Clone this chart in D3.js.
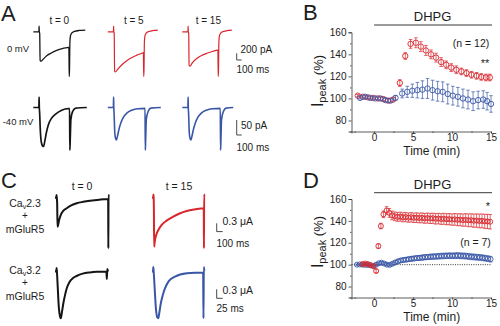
<!DOCTYPE html>
<html><head><meta charset="utf-8">
<script src="https://cdn.jsdelivr.net/npm/d3@7"></script>
<style>
body{margin:0;background:#fff}
svg{display:block;background:#fff}
text{font-family:"Liberation Sans",Arial,Helvetica,sans-serif;fill:#1c1c1c}
</style></head><body>
<svg id="fig" width="500" height="326"></svg>
<script>
// ---------- Panel A: Cav currents at 0 mV and -40 mV (time in ms, current in pA)
const a0Black = [[0,0],[112,0],[116,170],[120,0],[128,-40],[136,-860],[160,-880],[200,-820],[268,-720],[360,-635],[468,-560],[580,-505],[700,-470],[712,-466],[718,-1340],[724,-1150],[732,-300],[745,-110],[770,-35],[820,10],[920,40],[1040,50]];
const a0Red5 = [[0,0],[112,0],[116,170],[120,0],[128,-40],[136,-1190],[155,-1200],[200,-1120],[310,-950],[444,-800],[580,-700],[700,-630],[712,-620],[718,-1340],[724,-1150],[732,-300],[745,-110],[770,-35],[820,10],[920,40],[1000,50]];
const a0Red15 = [[0,0],[112,0],[116,170],[120,0],[128,-40],[136,-1010],[155,-1030],[200,-930],[288,-800],[400,-700],[488,-645],[600,-590],[700,-550],[712,-545],[718,-1340],[724,-1150],[732,-300],[745,-110],[770,-35],[820,10],[920,40],[990,50]];
const a40Black = [[0,0],[112,0],[116,35],[120,0],[126,-15],[140,-75],[160,-115],[185,-128],[205,-130],[230,-112],[260,-85],[300,-58],[360,-37],[434,-24],[568,-9],[700,-4],[726,-4],[731,-142],[737,-115],[752,-40],[790,-12],[850,-2],[1070,0]];
const a40Blue5 = [[0,0],[112,0],[116,35],[120,0],[126,-20],[140,-85],[158,-105],[172,-108],[190,-98],[220,-75],[260,-52],[310,-33],[380,-19],[480,-9],[600,-4],[745,-3],[750,-142],[756,-115],[770,-40],[810,-12],[860,-2],[1060,0]];
const a40Blue15 = [[0,0],[112,0],[116,35],[120,0],[126,-20],[140,-85],[158,-105],[172,-108],[190,-98],[220,-75],[260,-52],[310,-33],[380,-19],[480,-9],[600,-4],[760,-3],[765,-142],[771,-115],[785,-40],[825,-12],[875,-2],[1020,0]];
const aColumnTitles = ['t = 0', 't = 5', 't = 15'];
const aRowTitles = ['0 mV', '-40 mV'];

// ---------- Panel B: Ipeak (%) vs time (min), Cav2.3
const bRedT = [-2.1,-1.45,-0.8,-0.15,0.5,1.15,1.8,2.45,3.3,4.0,4.68,5.36,6.0,6.65,7.3,7.95,8.6,9.25,9.9,10.55,11.2,11.85,12.5,13.15,13.75,14.35,14.85];
const bRedV = [102.5,101.5,101,100.5,100,99.5,98,99,114,138.5,149.5,150.5,147,143.5,140,137,133,130.5,128,126,124.5,123,121.5,120.5,119.5,119,119];
const bRedE = [1,1,1,1,1,1.5,1.5,1.5,3,3,4,4.5,4.5,4.5,4,4,4,3.5,3.5,3.5,3,3,3,3,3,3,3];
const bBlueT = [-1.8,-1.15,-0.5,0.15,0.8,1.45,2.1,2.75,3.6,4.25,4.9,5.55,6.2,6.85,7.5,8.15,8.8,9.45,10.1,10.75,11.4,12.05,12.7,13.35,14.0,14.5,15.0];
const bBlueV = [100.5,101.5,100.5,100,100,98.5,98,100.5,104.5,106,107,107.5,108,109,107.5,106.5,106,104,102.5,101.5,100,99,97.5,98.5,99,97.5,95];
const bBlueE = [1,1,1,1,1.5,1.5,1.5,2,4,5,6,7,8,9,9,9,9,9,8.5,8.5,8.5,8.5,8.5,8,8,8,7.5];

// ---------- Panel C: Cav2.3 / Cav3.2 + mGluR5 (time in ms, current in uA)
const c23Black = [[0,0],[22,0],[26,0.1],[30,0],[36,-0.2],[42,-1.05],[50,-1.0],[70,-0.8],[100,-0.6],[140,-0.47],[195,-0.38],[270,-0.28],[362,-0.2],[470,-0.15],[583,-0.11],[740,-0.07],[886,-0.05],[889,-1.83],[892,0.1],[898,0.05]];
const c23Red = [[0,0],[20,0],[24,0.12],[28,0],[31,-0.3],[36,-1.77],[45,-1.6],[70,-1.35],[110,-1.15],[162,-0.98],[250,-0.82],[355,-0.68],[460,-0.57],[578,-0.48],[720,-0.42],[863,-0.38],[866,-1.83],[869,0.12],[874,0.05]];
const c32Black = [[0,0],[5,0],[6.5,0.12],[8,0],[10,-0.3],[16,-1.2],[21,-1.5],[24,-1.56],[28,-1.4],[35,-1.05],[42,-0.78],[49,-0.56],[60,-0.36],[75,-0.22],[90,-0.15],[115,-0.07],[146,-0.03],[180,-0.01],[214,0],[216,-0.25],[218,0.08],[221,0]];
const c32Blue = [[0,0],[4,0],[5.5,0.15],[7,0],[10,-0.4],[17,-1.3],[22,-1.53],[26,-1.56],[30,-1.4],[37,-1.05],[45,-0.78],[54,-0.56],[70,-0.32],[96,-0.17],[145,-0.06],[213,-0.03],[214.5,-1.56],[216,0.15],[218,0.02]];
const cColumnTitles = ['t = 0', 't = 15'];

// ---------- Panel D: Ipeak (%) vs time (min), Cav3.2
const dRedT = [-1.5,-1.15,-0.8,-0.45,-0.05,0.26,0.55,0.87,1.2,1.6,1.95,2.3,2.65,3.0,3.35,3.7,4.05,4.4,4.75,5.1,5.45,5.8,6.15,6.5,6.85,7.2,7.55,7.9,8.25,8.6,8.95,9.3,9.65,10.0,10.35,10.7,11.05,11.4,11.75,12.1,12.45,12.8,13.15,13.5,13.85,14.2,14.55,14.9];
const dRedV = [100.5,101,100.5,99.5,98.8,94.2,117,135.3,146,149.5,147.3,145,144.2,143.6,143.9,143.3,143.5,143,143.3,142.8,143,142.6,142.8,142.3,142.6,142.2,142.4,141.9,142.1,141.7,141.9,141.5,141.6,141.2,141.4,141,141.1,140.7,140.9,140.5,140.6,140.2,140.3,139.9,140,139.6,139.5,139.2];
const dRedE = [1,1,1,1,1.2,1.5,2,2.5,3,3.5,4,4,4,4,4.1,4.1,4.2,4.2,4.3,4.3,4.4,4.4,4.5,4.5,4.6,4.6,4.7,4.8,4.8,4.9,5,5,5.1,5.2,5.3,5.4,5.5,5.6,5.7,5.8,5.9,6,6.1,6.2,6.3,6.4,6.5,6.6];
const dBlueT = [-2.2,-1.85,-1.5,-1.15,-0.8,-0.45,-0.1,0.25,0.6,0.95,1.3,1.65,2.0,2.35,2.7,3.05,3.4,3.75,4.1,4.45,4.8,5.15,5.5,5.85,6.2,6.55,6.9,7.25,7.6,7.95,8.3,8.65,9.0,9.35,9.7,10.05,10.4,10.75,11.1,11.45,11.8,12.15,12.5,12.85,13.2,13.55,13.9,14.25,14.6,14.95];
const dBlueV = [100,100.2,100,99.8,99.8,99.5,98.5,100,101.2,101.8,101,100,99.8,100.8,102,103,103.8,104.3,104.6,105,105.4,105.7,106,106.2,106.5,106.8,107,107.2,107.4,107.5,107.7,107.9,108,108.1,108.2,108.1,108.2,108.3,108.1,108,107.8,107.5,107.2,107,106.8,106.6,106.3,105.9,105.5,105];
const dBlueE = [0.6,0.6,0.6,0.6,0.7,0.7,0.8,0.9,1,1,1.1,1.1,1.2,1.3,1.5,1.6,1.8,1.9,2,2,2.1,2.1,2.2,2.2,2.3,2.3,2.3,2.4,2.4,2.4,2.5,2.5,2.5,2.5,2.5,2.5,2.6,2.6,2.6,2.6,2.6,2.6,2.6,2.6,2.6,2.6,2.6,2.6,2.6,2.6];

const timeTicks = [0,5,10,15];
const timeMinorTicks = [-2.5,2.5,7.5,12.5];
const pctTicks = [80,100,120,140,160];
const pctMinorTicks = [70,90,110,130,150];

const BLACK = '#151515', RED = '#d8262d', BLUE = '#3a57a7';
const svg = d3.select('#fig');

function txt(x, y, s, size, anchor = 'start') {
  return svg.append('text').attr('x', x).attr('y', y).attr('font-size', size)
    .attr('text-anchor', anchor).text(s);
}

function trace(data, xs, ys, x0, color, w) {
  const line = d3.line().x(d => x0 + xs(d[0])).y(d => ys(d[1])).curve(d3.curveMonotoneX);
  svg.append('path').attr('d', line(data)).attr('fill', 'none')
    .attr('stroke', color).attr('stroke-width', w).attr('stroke-linejoin', 'round');
}

function scaleBar(x0, yTop, dx, dy) {
  svg.append('path').attr('d', `M${x0},${yTop}V${yTop + dy}H${x0 + dx}`)
    .attr('fill', 'none').attr('stroke', '#333').attr('stroke-width', 0.9);
}

// Panel letters
txt(1, 21, 'A', 22); txt(303, 20, 'B', 22); txt(1, 188, 'C', 22); txt(303, 188, 'D', 22);

// ----- Panel A
const aX = d3.scaleLinear().domain([0, 100]).range([0, 5]);
const aYTop = d3.scaleLinear().domain([0, -200]).range([31.8, 38.47]);
const aYBot = d3.scaleLinear().domain([0, -50]).range([107.5, 122.5]);
const aCols = [33.3, 107.8, 182.3];
aColumnTitles.forEach((t, i) => txt(aCols[i] + 26, 24, t, 10, 'middle'));
txt(18, 51.5, aRowTitles[0], 9.5, 'middle');
txt(18, 125, aRowTitles[1], 9.5, 'middle');
trace(a0Black, aX, aYTop, aCols[0], BLACK, 1.3);
trace(a0Red5, aX, aYTop, aCols[1], RED, 1.2);
trace(a0Red15, aX, aYTop, aCols[2], RED, 1.2);
trace(a40Black, aX, aYBot, aCols[0], BLACK, 1.7);
trace(a40Blue5, aX, aYBot, aCols[1], BLUE, 1.6);
trace(a40Blue15, aX, aYBot, aCols[2], BLUE, 1.6);
scaleBar(236.7, 53.3, aX(100), aYTop(-200) - aYTop(0));
txt(240.5, 53, '200 pA', 10);
txt(236.5, 73, '100 ms', 10);
scaleBar(236.7, 120, aX(100), aYBot(-50) - aYBot(0));
txt(241, 128.5, '50 pA', 10);
txt(236.5, 150.5, '100 ms', 10);

// ----- Panel C
const c23X = d3.scaleLinear().domain([0, 100]).range([0, 6]);
const c23Y = d3.scaleLinear().domain([0, -0.3]).range([197.7, 206]);
const c32X = d3.scaleLinear().domain([0, 25]).range([0, 6]);
const c32Y = d3.scaleLinear().domain([0, -0.3]).range([271.5, 280.5]);
const cCols = [55, 152];
cColumnTitles.forEach((t, i) => txt(cCols[i] + 27, 190, t, 10.5, 'middle'));
function cavLabel(y, sub) {
  const t = svg.append('text').attr('x', 25).attr('y', y).attr('font-size', 10.5).attr('text-anchor', 'middle');
  t.append('tspan').text('Ca');
  t.append('tspan').attr('font-size', 7).attr('dy', 2).text('v');
  t.append('tspan').attr('dy', -2).text(sub);
  txt(25, y + 12.5, '+', 10, 'middle');
  txt(25, y + 26, 'mGluR5', 10.5, 'middle');
}
cavLabel(206.5, '2.3');
cavLabel(273.5, '3.2');
trace(c23Black, c23X, c23Y, cCols[0], BLACK, 2);
trace(c23Red, c23X, c23Y, cCols[1], RED, 2);
trace(c32Black, c32X, c32Y, cCols[0], BLACK, 2);
trace(c32Blue, c32X, c32Y, cCols[1], BLUE, 2);
scaleBar(216.7, 223.3, c23X(100), c23Y(-0.3) - c23Y(0));
txt(222.5, 224.5, '0.3 \u03bcA', 10.5);
txt(216.5, 246.5, '100 ms', 10);
scaleBar(216.7, 289.3, c32X(25), c32Y(-0.3) - c32Y(0));
txt(222.5, 293.5, '0.3 \u03bcA', 10.5);
txt(216.5, 311.5, '25 ms', 10);

// ----- Panels B and D: time courses
function timeCourse(cfg) {
  const x = d3.scaleLinear().domain([-2.9, 15]).range([351.5, 491]);
  const y = d3.scaleLinear().domain([70, 160]).range([cfg.bottom, cfg.top]);
  const g = svg.append('g');
  const styleAxis = sel => {
    sel.selectAll('path,line').attr('stroke', '#333').attr('stroke-width', 0.8);
    sel.selectAll('text').attr('font-size', 10).attr('font-family', '"Liberation Sans", Arial, sans-serif').attr('fill', '#1c1c1c');
  };
  g.append('g').attr('transform', `translate(0,${cfg.bottom})`)
    .call(d3.axisBottom(x).tickValues(timeTicks).tickSize(2).tickPadding(0).tickFormat(d3.format('d')))
    .call(styleAxis);
  g.append('g').attr('transform', `translate(0,${cfg.bottom})`)
    .call(d3.axisBottom(x).tickValues(timeMinorTicks).tickSize(1.5).tickFormat(''))
    .call(styleAxis).select('.domain').remove();
  g.append('g').attr('transform', 'translate(351.5,0)')
    .call(d3.axisLeft(y).tickValues(pctTicks).tickSize(3).tickPadding(2))
    .call(styleAxis);
  g.append('g').attr('transform', 'translate(351.5,0)')
    .call(d3.axisLeft(y).tickValues(pctMinorTicks).tickSize(1.5).tickFormat(''))
    .call(styleAxis).select('.domain').remove();

  if (cfg.dotted) {
    g.append('line').attr('x1', x(-2.9)).attr('x2', x(15)).attr('y1', y(100)).attr('y2', y(100))
      .attr('stroke', '#222').attr('stroke-width', 0.9).attr('stroke-dasharray', '1,1.3');
  }

  // DHPG application bar
  g.append('line').attr('x1', x(0)).attr('x2', x(15) + 1).attr('y1', cfg.barY).attr('y2', cfg.barY)
    .attr('stroke', '#222').attr('stroke-width', 0.9);
  txt(x(7.5), cfg.barY - 4, 'DHPG', 13, 'middle');

  // y label: I_peak (%)
  const yl = svg.append('text').attr('transform', `translate(322.5,${cfg.labelY}) rotate(-90)`).attr('text-anchor', 'middle');
  yl.append('tspan').attr('font-size', 16).text('I');
  yl.append('tspan').attr('font-size', 11).attr('dy', 3).text('peak');
  yl.append('tspan').attr('font-size', 13).attr('dy', -3).text(' (%)');
  txt(x(7.4), cfg.timeY, 'Time (min)', 12, 'middle');

  cfg.series.forEach(s => {
    const sg = g.append('g').attr('stroke', s.color).attr('fill', 'none');
    s.t.forEach((t, i) => {
      const cx = x(t), v = s.v[i], e = s.e[i];
      sg.append('line').attr('x1', cx).attr('x2', cx).attr('y1', y(v - e)).attr('y2', y(v + e)).attr('stroke-width', 0.7);
      [v - e, v + e].forEach(c => sg.append('line').attr('x1', cx - 1.8).attr('x2', cx + 1.8)
        .attr('y1', y(c)).attr('y2', y(c)).attr('stroke-width', 0.7));
      sg.append('circle').attr('cx', cx).attr('cy', y(v)).attr('r', s.r).attr('stroke-width', 0.9);
    });
  });
  return { x, y };
}

timeCourse({
  top: 32.3, bottom: 131.5, barY: 25, labelY: 81, timeY: 154.5, dotted: false,
  series: [
    { t: bRedT, v: bRedV, e: bRedE, color: RED, r: 2.7 },
    { t: bBlueT, v: bBlueV, e: bBlueE, color: BLUE, r: 2.7 }
  ]
});
txt(471, 46.5, '(n = 12)', 10.5, 'middle');
txt(485, 67, '**', 11, 'middle');

timeCourse({
  top: 199, bottom: 297.5, barY: 192.7, labelY: 242, timeY: 321, dotted: true,
  series: [
    { t: dBlueT, v: dBlueV, e: dBlueE, color: BLUE, r: 2.5 },
    { t: dRedT, v: dRedV, e: dRedE, color: RED, r: 2.5 }
  ]
});
txt(475.5, 245.5, '(n = 7)', 10.5, 'middle');
txt(488, 210, '*', 11, 'middle');
</script></body></html>
